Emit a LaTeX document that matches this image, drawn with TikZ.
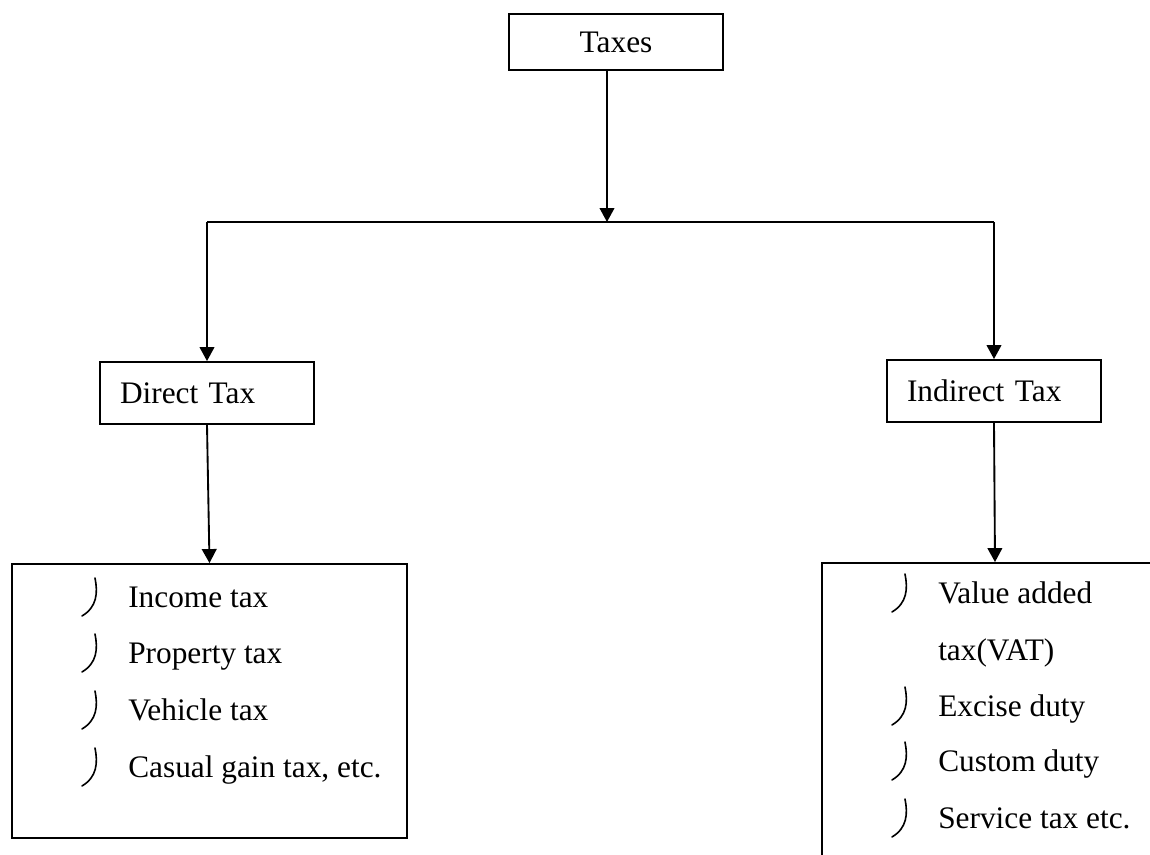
\documentclass[tikz,border=0pt]{standalone}
\usepackage{fontspec}
\setmainfont{Liberation Serif}
\usetikzlibrary{arrows.meta}

\tikzset{
  box/.style={draw, line width=1.4pt, inner sep=0pt},
  catbox/.style={box, minimum width=160.5pt, minimum height=46.5pt,
    text width=130.5pt, align=left, inner xsep=15pt},
  link/.style={line width=1.4pt, -{Triangle[width=11pt,length=10.5pt]}},
  hook/.style={line width=1.2pt, line cap=round},
  item/.style={anchor=base west, inner sep=0pt}
}

\begin{document}
\begin{tikzpicture}[x=0.75pt,y=-0.75pt,font=\fontsize{23.5}{28}\selectfont]

\clip (0,0) rectangle (1150,854);

\node[box, minimum width=160.5pt, minimum height=42pt] (taxes) at (616,42) {Taxes};
\node[catbox] (direct) at (207,393) {Direct Tax};
\node[catbox] (indirect) at (994,391) {Indirect Tax};
\node[box, minimum width=296.25pt, minimum height=205.5pt] (dlist) at (209.5,701) {};
\node[box, minimum width=259.5pt, minimum height=230.25pt] (ilist) at (995,716.5) {};

\coordinate (split) at (607,222);
\coordinate (left) at (207,222);
\coordinate (right) at (994,222);

\draw[link] (taxes.south -| split) -- (split);
\draw[line width=1.4pt] (left) -- (right);
\draw[link] (left) -- (direct.north);
\draw[link] (right) -- (indirect.north);
\draw[link] (direct.south) -- (dlist.north);
\draw[link] (indirect.south) -- (ilist.north);

% direct taxes
\foreach \y/\t [count=\i] in {607/Income tax, 663/Property tax, 720/Vehicle tax, 777/{Casual gain tax, etc.}}
{
    \node[item] (d\i) at (128,\y) {\t};
    \draw[hook] (95,\y-29) .. controls (98,\y-14) and (97,\y) .. (82,\y+9);
}

% indirect taxes
\foreach \y/\t [count=\i] in {603/Value added, 660/tax(VAT), 716/Excise duty, 771/Custom duty, 828/Service tax etc.}
    \node[item] (n\i) at (938,\y) {\t};

\foreach \y in {603,716,771,828}
    \draw[hook] (905,\y-29) .. controls (908,\y-14) and (907,\y) .. (892,\y+9);

\end{tikzpicture}
\end{document}
